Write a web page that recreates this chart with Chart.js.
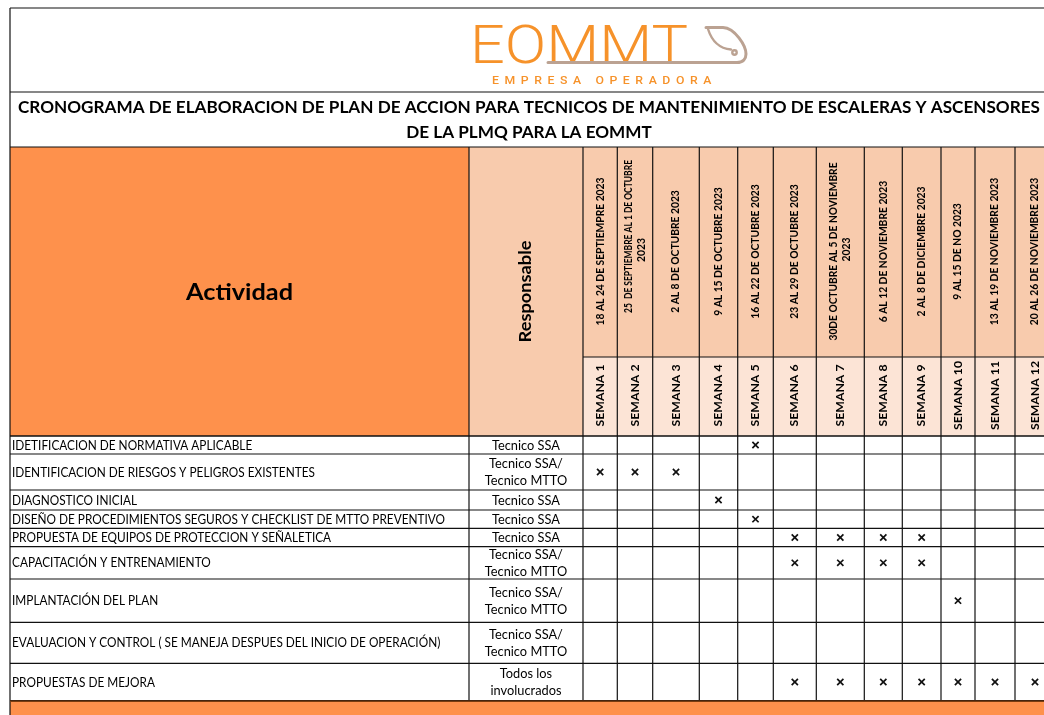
<!DOCTYPE html>
<html><head><meta charset="utf-8">
<script src="https://cdn.jsdelivr.net/npm/chart.js@4.4.0/dist/chart.umd.min.js"></script>
<style>html,body{margin:0;padding:0;background:#fff;overflow:hidden}canvas{display:block}</style>
</head><body>
<canvas id="c" width="1044" height="715"></canvas>
<script>
// ---------- DATA ----------
const logoName = 'EOMMT';
const logoTagline = 'EMPRESA OPERADORA';
const titleLines = [
  'CRONOGRAMA DE ELABORACION DE PLAN DE ACCION PARA TECNICOS DE MANTENIMIENTO DE ESCALERAS Y ASCENSORES',
  'DE LA PLMQ PARA LA EOMMT'
];
const headerActividad = 'Actividad';
const headerResponsable = 'Responsable';
const activities = [
  'IDETIFICACION DE NORMATIVA APLICABLE',
  'IDENTIFICACION DE RIESGOS Y PELIGROS EXISTENTES',
  'DIAGNOSTICO INICIAL',
  'DISEÑO DE PROCEDIMIENTOS SEGUROS Y CHECKLIST DE MTTO PREVENTIVO',
  'PROPUESTA DE EQUIPOS DE PROTECCION Y SEÑALETICA',
  'CAPACITACIÓN Y ENTRENAMIENTO',
  'IMPLANTACIÓN DEL PLAN',
  'EVALUACION Y CONTROL ( SE MANEJA DESPUES DEL INICIO DE OPERACIÓN)',
  'PROPUESTAS DE MEJORA'
];
const responsables = [
  ['Tecnico SSA'],
  ['Tecnico SSA/', 'Tecnico MTTO'],
  ['Tecnico SSA'],
  ['Tecnico SSA'],
  ['Tecnico SSA'],
  ['Tecnico SSA/', 'Tecnico MTTO'],
  ['Tecnico SSA/', 'Tecnico MTTO'],
  ['Tecnico SSA/', 'Tecnico MTTO'],
  ['Todos los', 'involucrados']
];
const weekLabels = ['SEMANA 1','SEMANA 2','SEMANA 3','SEMANA 4','SEMANA 5','SEMANA 6',
  'SEMANA 7','SEMANA 8','SEMANA 9','SEMANA 10','SEMANA 11','SEMANA 12'];
const weekDates = [
  ['18 AL 24 DE SEPTIEMPRE 2023'],
  ['25  DE SEPTIEMBRE AL 1 DE OCTUBRE', '2023'],
  ['2 AL 8 DE OCTUBRE 2023'],
  ['9 AL 15 DE OCTUBRE 2023'],
  ['16 AL 22 DE OCTUBRE 2023'],
  ['23 AL 29 DE OCTUBRE 2023'],
  ['30DE OCTUBRE AL 5 DE NOVIEMBRE', '2023'],
  ['6 AL 12 DE NOVIEMBRE 2023'],
  ['2 AL 8 DE DICIEMBRE 2023'],
  ['9 AL 15 DE NO 2023'],
  ['13 AL 19 DE NOVIEMBRE 2023'],
  ['20 AL 26 DE NOVIEMBRE 2023']
];
// weeks (1-based) marked with an "x" for each activity
const schedule = [[5], [1,2,3], [4], [5], [6,7,8,9], [6,7,8,9], [10], [], [6,7,8,9,10,11,12]];

// ---------- LAYOUT (table units, 1 unit = 1 px) ----------
const L = {
  padLeft: 10, padTop: 8,
  xMax: 1034, yMax: 707,
  colW: [459, 114],
  weekW: [34.3, 35.4, 46.6, 38.4, 35.6, 43, 48, 38, 38.7, 34, 40, 40],
  headH: [84, 55, 210, 79],
  rowH: [18, 36, 20, 18.3, 18.4, 32.3, 43.3, 41, 37.4],
  bandH: 20,
  titleCx: 519, titleY: [99.5, 124],
  dateCy: 243.5, dateLineGap: 13.4,
  dateShift: {1: [-15, -1.5], 6: [0, -2]},
  dateFitW: {1: [153, 0], 6: [178, 0]},
  respLineGap: 17.4
};
const C = {
  orange: '#FE914C', peach: '#F8CBAD', light: '#FCE4D6', line: '#111111',
  logo: '#F6922A', logoGrey: '#BBA292', band: '#FE914C'
};
const FONTS = {
  title: { font: 'bold 17.5px Lato', ref: titleLines[0], w: 1022 },
  actividad: { font: 'bold 23px Lato', ref: 'Actividad', w: 107 },
  responsable: { font: 'bold 17px Lato', ref: 'Responsable', w: 102 },
  date: { font: 'bold 10.5px Lato', ref: '18 AL 24 DE SEPTIEMPRE 2023', w: 148 },
  week: { font: 'bold 11px Lato', ref: 'SEMANA 1', w: 62 },
  body: { font: '12.5px Lato', ref: 'DISEÑO DE PROCEDIMIENTOS SEGUROS Y CHECKLIST DE MTTO PREVENTIVO', w: 433 },
  resp: { font: '13px Lato', ref: 'Tecnico SSA', w: 68 },
  logo: { font: '300 54px Roboto', ref: 'EOMMT', w: 218 },
  tag: { font: '500 11px Roboto', ref: 'EMPRESA OPERADORA', w: 225, ls: '5px' }
};

// ---------- helpers ----------
const cum = a => a.reduce((acc, v) => (acc.push(acc[acc.length - 1] + v), acc), [0]);
const colEdges = cum(L.colW.concat(L.weekW));
const headEdges = cum(L.headH);
const bodyEdges = cum(L.rowH).map(v => v + headEdges[headEdges.length - 1]);
const weekCenter = i => (colEdges[2 + i] + colEdges[3 + i]) / 2;
const rowCenter = i => (bodyEdges[i] + bodyEdges[i + 1]) / 2;

const points = [];
schedule.forEach((wks, i) => wks.forEach(w => points.push({ x: weekCenter(w - 1), y: rowCenter(i) })));

function measure(ctx, key, s) {
  const f = FONTS[key];
  ctx.save(); ctx.font = f.font; if (f.ls) ctx.letterSpacing = f.ls;
  const m = ctx.measureText(s).width; ctx.restore();
  return m;
}
const sxCache = {};
function fitScale(ctx, key) {
  if (sxCache[key]) return sxCache[key];
  return (sxCache[key] = FONTS[key].w / measure(ctx, key, FONTS[key].ref));
}
function text(ctx, key, s, x, y, o = {}) {
  const f = FONTS[key];
  ctx.save();
  ctx.translate(x, y);
  if (o.rot) ctx.rotate(o.rot);
  ctx.scale(o.fitW ? o.fitW / measure(ctx, key, s) : fitScale(ctx, key), 1);
  ctx.font = f.font;
  if (f.ls) ctx.letterSpacing = f.ls;
  ctx.fillStyle = o.color || '#000';
  ctx.textAlign = o.align || 'center';
  ctx.textBaseline = o.baseline || 'middle';
  ctx.fillText(s, 0, 0);
  ctx.restore();
}

const tablePlugin = {
  id: 'tableDraw',
  beforeDatasetsDraw(chart) {
    const ctx = chart.ctx, sx = chart.scales.x, sy = chart.scales.y;
    const X = v => sx.getPixelForValue(v), Y = v => sy.getPixelForValue(v);
    const xL = X(0), xR = X(colEdges[colEdges.length - 1]);
    const yHeadTop = Y(headEdges[2]), yWeekTop = Y(headEdges[3]), yBodyTop = Y(headEdges[4]);
    const yBodyBot = Y(bodyEdges[bodyEdges.length - 1]);

    ctx.save();
    // fills
    ctx.fillStyle = C.orange; ctx.fillRect(xL, yHeadTop, X(colEdges[1]) - xL, yBodyTop - yHeadTop);
    ctx.fillStyle = C.peach; ctx.fillRect(X(colEdges[1]), yHeadTop, xR - X(colEdges[1]), yWeekTop - yHeadTop);
    ctx.fillRect(X(colEdges[1]), yWeekTop, X(colEdges[2]) - X(colEdges[1]), yBodyTop - yWeekTop);
    ctx.fillStyle = C.light; ctx.fillRect(X(colEdges[2]), yWeekTop, xR - X(colEdges[2]), yBodyTop - yWeekTop);
    ctx.fillStyle = C.band; ctx.fillRect(xL, yBodyBot, xR - xL, Y(bodyEdges[bodyEdges.length - 1] + L.bandH) - yBodyBot);

    // lines
    ctx.strokeStyle = C.line; ctx.lineWidth = 1.2;
    const hl = (y, x0, x1) => { ctx.beginPath(); ctx.moveTo(x0, y); ctx.lineTo(x1, y); ctx.stroke(); };
    const vl = (x, y0, y1) => { ctx.beginPath(); ctx.moveTo(x, y0); ctx.lineTo(x, y1); ctx.stroke(); };
    headEdges.forEach((e, i) => { if (i !== 3) hl(Y(e), xL, xR); });
    hl(yWeekTop, X(colEdges[2]), xR);
    bodyEdges.forEach(e => hl(Y(e), xL, xR));
    vl(xL, Y(0), Y(L.yMax));
    for (let i = 1; i < colEdges.length; i++) vl(X(colEdges[i]), yHeadTop, yBodyBot);
    ctx.strokeStyle = '#7a3d10'; ctx.lineWidth = 1.6; hl(yBodyBot + 0.6, xL, xR);

    // logo
    const lx = 470 - L.padLeft;
    text(ctx, 'logo', logoName, X(lx), Y(55), { align: 'left', baseline: 'alphabetic', color: C.logo });
    ctx.strokeStyle = C.logoGrey; ctx.lineWidth = 3; ctx.lineCap = 'round'; ctx.lineJoin = 'round';
    ctx.beginPath(); ctx.moveTo(X(538), Y(54.5)); ctx.lineTo(X(727), Y(54.5));
    ctx.bezierCurveTo(X(733), Y(54.5), X(736), Y(51), X(736), Y(46));
    ctx.bezierCurveTo(X(736), Y(38), X(725), Y(20), X(713), Y(19.5));
    ctx.lineTo(X(696), Y(19.5)); ctx.stroke();
    ctx.lineWidth = 2.4;
    ctx.beginPath(); ctx.moveTo(X(698), Y(21)); ctx.quadraticCurveTo(X(704), Y(40), X(721), Y(41.5)); ctx.stroke();
    ctx.beginPath(); ctx.arc(X(724.5), Y(44.5), 2.2, 0, Math.PI * 2); ctx.stroke();
    text(ctx, 'tag', logoTagline, X(594.5), Y(73), { color: C.logo });

    // title
    titleLines.forEach((t, i) => text(ctx, 'title', t, X(L.titleCx), Y(L.titleY[i])));

    // header texts
    text(ctx, 'actividad', headerActividad, X(colEdges[0] + L.colW[0] / 2), Y((headEdges[2] + headEdges[4]) / 2) + 1);
    text(ctx, 'responsable', headerResponsable, X((colEdges[1] + colEdges[2]) / 2), Y((headEdges[2] + headEdges[4]) / 2), { rot: -Math.PI / 2 });
    weekDates.forEach((lines, i) => {
      const cx = weekCenter(i);
      lines.forEach((s, j) => {
        const off = (j - (lines.length - 1) / 2) * L.dateLineGap;
        const sh = (L.dateShift[i] || [0, 0])[j];
        const fw = (L.dateFitW[i] || [0, 0])[j];
        text(ctx, 'date', s, X(cx + off), Y(L.dateCy + sh), { rot: -Math.PI / 2, fitW: fw || 0 });
      });
      text(ctx, 'week', weekLabels[i], X(cx), Y((headEdges[3] + headEdges[4]) / 2) - 1, { rot: -Math.PI / 2 });
    });

    // body texts
    activities.forEach((a, i) => {
      text(ctx, 'body', a, X(2), Y(rowCenter(i)) + 0.5, { align: 'left' });
      const lines = responsables[i];
      lines.forEach((s, j) => {
        const off = (j - (lines.length - 1) / 2) * L.respLineGap;
        text(ctx, 'resp', s, X((colEdges[1] + colEdges[2]) / 2), Y(rowCenter(i) + off) + 0.5);
      });
    });
    ctx.restore();
  }
};

new Chart(document.getElementById('c'), {
  type: 'scatter',
  data: { datasets: [{
    data: points, clip: false,
    pointStyle: 'crossRot', pointRadius: 4.4, pointHoverRadius: 4.4,
    pointBorderWidth: 1.7, borderColor: '#111', backgroundColor: '#111'
  }] },
  options: {
    responsive: false, animation: false, devicePixelRatio: 1, events: [],
    layout: { autoPadding: false, padding: { left: L.padLeft, top: L.padTop, right: 0, bottom: 0 } },
    scales: {
      x: { type: 'linear', display: false, min: 0, max: L.xMax },
      y: { type: 'linear', display: false, min: 0, max: L.yMax, reverse: true }
    },
    plugins: { legend: { display: false }, tooltip: { enabled: false }, title: { display: false } }
  },
  plugins: [tablePlugin]
});
</script>
</body></html>
